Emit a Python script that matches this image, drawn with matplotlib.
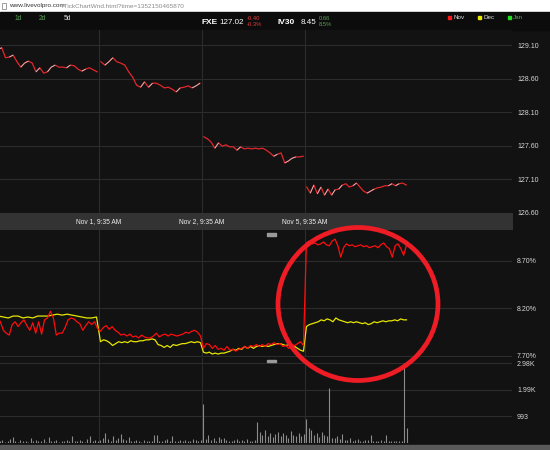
import numpy as np
import matplotlib
matplotlib.use('Agg')
import matplotlib.pyplot as plt
from matplotlib.collections import LineCollection
from matplotlib.patches import Rectangle, Ellipse

plt.rcParams['font.family'] = ['Liberation Sans', 'DejaVu Sans']

# ----------------------------------------------------------------------------------------------------------------------
# data (FXE ticks, 5 day view)
day_labels = ['Nov 1, 9:35 AM', 'Nov 2, 9:35 AM', 'Nov 5, 9:35 AM']
day_starts = [1, 2, 3]

price_oct31 = [129.03, 129.06, 128.91, 128.92, 128.95, 128.85, 128.77, 128.83, 128.86, 128.83, 128.70, 128.76,
               128.68, 128.70, 128.77, 128.80, 128.77, 128.77, 128.76, 128.80, 128.79, 128.74, 128.71, 128.74,
               128.76, 128.73, 128.70]
price_nov1 = [128.85, 128.80, 128.85, 128.91, 128.85, 128.83, 128.80, 128.70, 128.62, 128.50, 128.47, 128.55,
              128.47, 128.53, 128.53, 128.50, 128.46, 128.47, 128.44, 128.40, 128.46, 128.47, 128.49, 128.46,
              128.49, 128.53]
price_nov2 = [127.73, 127.70, 127.65, 127.56, 127.64, 127.59, 127.61, 127.58, 127.58, 127.53, 127.58, 127.55,
              127.56, 127.55, 127.56, 127.55, 127.56, 127.53, 127.49, 127.44, 127.47, 127.49, 127.34, 127.37,
              127.41, 127.43, 127.43, 127.44]
price_nov5 = [126.98, 126.89, 127.01, 126.88, 126.98, 126.86, 126.95, 126.86, 126.94, 126.95, 127.01, 127.03,
              126.98, 127.00, 127.04, 126.98, 126.92, 126.89, 126.92, 126.95, 126.97, 126.98, 127.00, 127.00,
              127.03, 127.00, 127.03, 127.04, 127.01]
price_ticks = [126.60, 127.10, 127.60, 128.10, 128.60, 129.10]

# implied vol, Nov (red) and Dec (yellow) series
iv_nov = [
    [8.10, 8.06, 7.97, 7.94, 7.92, 8.03, 8.06, 8.01, 8.05, 8.08, 8.02, 7.97, 8.05, 7.94, 8.06, 7.93, 8.08, 8.10,
     8.17, 8.10, 7.92, 7.94, 7.94, 8.00, 8.08, 8.10, 8.09, 8.06, 8.04, 7.97, 8.02, 8.06, 8.03, 8.06, 7.99],
    [7.96, 8.00, 8.02, 7.98, 8.01, 7.97, 7.95, 7.92, 7.93, 7.91, 7.93, 7.90, 7.91, 7.89, 7.92, 7.90, 7.89, 7.89,
     7.91, 7.94, 7.90, 7.92, 7.93, 7.91, 7.93, 7.92, 7.91, 7.92, 7.93, 7.95, 7.94, 7.96, 7.97, 7.95, 7.91],
    [7.78, 7.83, 7.82, 7.78, 7.81, 7.77, 7.78, 7.76, 7.80, 7.76, 7.77, 7.75, 7.77, 7.78, 7.80, 7.78, 7.81, 7.80,
     7.82, 7.80, 7.82, 7.80, 7.83, 7.82, 7.84, 7.82, 7.83, 7.80, 7.81, 7.78, 7.82, 7.81, 7.83, 7.85, 7.81],
    [8.89, 8.91, 8.88, 8.89, 8.87, 8.88, 8.90, 8.87, 8.86, 8.91, 8.93, 8.86, 8.74, 8.84, 8.88, 8.86, 8.87, 8.85,
     8.86, 8.87, 8.85, 8.86, 8.84, 8.85, 8.86, 8.84, 8.87, 8.89, 8.85, 8.83, 8.74, 8.86, 8.88, 8.83, 8.76, 8.87],
]
iv_dec = [
    [8.12, 8.11, 8.10, 8.12, 8.12, 8.10, 8.11, 8.10, 8.12, 8.12, 8.12, 8.13, 8.14, 8.13, 8.14, 8.13, 8.12, 8.11,
     8.10, 8.10, 8.11],
    [7.85, 7.87, 7.86, 7.84, 7.81, 7.83, 7.85, 7.84, 7.85, 7.84, 7.86, 7.85, 7.85, 7.86, 7.86, 7.87, 7.87, 7.88,
     7.87, 7.82, 7.81, 7.79, 7.81, 7.79, 7.82, 7.81, 7.82, 7.83, 7.83, 7.84, 7.85, 7.84, 7.85, 7.84],
    [7.74, 7.73, 7.74, 7.72, 7.73, 7.72, 7.73, 7.73, 7.74, 7.75, 7.77, 7.76, 7.78, 7.77, 7.80, 7.78, 7.80, 7.78,
     7.80, 7.81, 7.80, 7.81, 7.80, 7.81, 7.82, 7.83, 7.83, 7.82, 7.81, 7.82, 7.81, 7.80, 7.78, 7.76, 7.75],
    [8.01, 8.03, 8.04, 8.05, 8.06, 8.08, 8.07, 8.09, 8.08, 8.06, 8.10, 8.08, 8.07, 8.06, 8.05, 8.06, 8.05, 8.06,
     8.05, 8.04, 8.05, 8.03, 8.04, 8.06, 8.05, 8.06, 8.07, 8.06, 8.07, 8.07, 8.08, 8.07, 8.09, 8.08, 8.08],
]
iv_ticks = [7.70, 8.20, 8.70]
iv_tick_labels = ['7.70%', '8.20%', '8.70%']

volume = [
    [90, 60, 120, 40, 80, 150, 210, 70, 50, 110, 60, 90, 40, 200, 80, 130, 60, 90, 150, 40, 220, 70, 60, 100,
     50, 80, 60, 110, 90, 250, 70, 60, 120, 80, 50, 140, 260, 90, 110, 70],
    [120, 200, 380, 150, 90, 260, 120, 200, 340, 160, 110, 240, 90, 60, 130, 80, 50, 110, 70, 90, 60, 300, 310,
     80, 60, 110, 150, 70, 250, 90, 60, 130, 80, 110, 70, 90, 140, 100, 60, 120],
    [1460, 160, 280, 120, 200, 90, 240, 150, 170, 110, 90, 60, 130, 150, 80, 100, 60, 140, 90, 70, 120, 780,
     420, 300, 500, 260, 380, 220, 340, 420, 250, 380, 300, 200, 440, 310, 250, 380, 270, 330],
    [900, 560, 480, 300, 360, 220, 420, 280, 250, 2030, 200, 180, 250, 140, 320, 120, 100, 180, 80, 120, 150, 90,
     70, 130, 100, 280, 90, 60, 80, 120, 60, 300, 80, 60, 70, 90, 60, 80, 2980, 560],
]
vol_ticks = [993, 1986, 2979]
vol_tick_labels = ['993', '1.99K', '2.98K']

# ----------------------------------------------------------------------------------------------------------------------
W, H = 550, 450
BG = '#121212'
GRID = '#2c2c2c'


def px_rect(l, t, r, b):
    # pixel box (from top left) -> figure fraction
    return [l / W, 1 - b / H, (r - l) / W, (b - t) / H]


def day_x(d, n):
    return d + (np.arange(n) + 0.5) / n


def style(ax, ylim, ticks, labels):
    ax.set_facecolor(BG)
    ax.set_xlim(0.039, 5.01)
    ax.set_ylim(*ylim)
    ax.set_xticks(day_starts)
    ax.set_xticklabels([])
    ax.set_yticks(ticks)
    ax.set_yticklabels(labels)
    ax.grid(True, color=GRID, lw=0.8)
    ax.set_axisbelow(True)
    ax.tick_params(length=0, labelleft=False, labelright=True, labelcolor='#d6d6d6', labelsize=5, pad=3.6)
    for s in ax.spines.values():
        s.set_visible(False)


fig = plt.figure(figsize=(5.5, 4.5), dpi=100)
fig.patch.set_facecolor(BG)

# browser bar + header strip
fig.add_artist(Rectangle((0, 1 - 11.5 / H), 1, 11.5 / H, transform=fig.transFigure, color='white', zorder=0))
fig.add_artist(Rectangle((0, 1 - 30 / H), 1, 18.5 / H, transform=fig.transFigure, color='#0c0c0c', zorder=0))
fig.add_artist(Rectangle((2 / W, 1 - 9 / H), 4 / W, 6 / H, transform=fig.transFigure, fill=False, ec='#777777',
                         lw=0.5))
fig.text(9 / W, 1 - 6 / H, 'www.livevolpro.com', color='#333333', fontsize=4.6, va='center')
fig.text(62.5 / W, 1 - 6 / H, '/TickChartWnd.html?time=1352150465870', color='#8a8a8a', fontsize=4.6,
         va='center')

hdr_y = 1 - 22.5 / H
for x, s, c in [(15, '1d', '#5aa05a'), (39, '2d', '#5aa05a'), (64, '5d', '#e0e0e0')]:
    fig.text(x / W, 1 - 18 / H, s, color=c, fontsize=4.8, va='center')
fig.text(201 / W, hdr_y, 'FXE', color='white', fontsize=6, va='center', fontweight='bold')
fig.text(244 / W, hdr_y, '127.02', color='white', fontsize=5.8, va='center', ha='right')
fig.text(247 / W, 1 - 18.5 / H, '-0.40', color='#e03a3a', fontsize=4.2, va='center')
fig.text(247 / W, 1 - 25 / H, '-0.3%', color='#e03a3a', fontsize=4.2, va='center')
fig.text(278 / W, hdr_y, 'IV30', color='white', fontsize=6, va='center', fontweight='bold')
fig.text(316 / W, hdr_y, '8.45', color='white', fontsize=5.8, va='center', ha='right')
fig.text(318.5 / W, 1 - 18.5 / H, '0.66', color='#5aa05a', fontsize=4.2, va='center')
fig.text(318.5 / W, 1 - 25 / H, '8.5%', color='#5aa05a', fontsize=4.2, va='center')
for x, s, c, tc in [(449, 'Nov', '#ff1a1a', '#dddddd'), (479, 'Dec', '#e8e800', '#dddddd'),
                    (509, 'Jan', '#22dd22', '#5aa05a')]:
    fig.add_artist(Rectangle(((x - 1.5) / W, 1 - 19 / H), 3 / W, 3 / H, transform=fig.transFigure, color=c))
    fig.text((x + 4) / W, 1 - 17.5 / H, s, color=tc, fontsize=4.5, va='center')

####################################################################################################################
# PRICE PANEL
ax1 = fig.add_axes(px_rect(0, 30, 512, 213))
style(ax1, (126.593, 129.324), price_ticks, ['%.2f' % p for p in price_ticks])
for d, vals in enumerate([price_oct31, price_nov1, price_nov2, price_nov5]):
    x = day_x(d, len(vals))
    ax1.plot(x, vals, color='#e3262b', lw=0.9)
    # up-ticks drawn lighter on top
    pts = np.column_stack([x, vals])
    segs = np.stack([pts[:-1], pts[1:]], axis=1)
    up = [b > a + 0.02 for a, b in zip(vals[:-1], vals[1:])]
    ax1.add_collection(LineCollection(segs[up], colors='#c8c8c8', linewidths=0.6))

# date band
axb = fig.add_axes(px_rect(0, 213, 513, 230))
axb.set_facecolor('#333333')
axb.set_xlim(0.039, 5.02)
axb.set_ylim(0, 1)
axb.set_xticks([])
axb.set_yticks([])
for s in axb.spines.values():
    s.set_visible(False)
for d, lab in zip(day_starts, day_labels):
    axb.text(d, 0.5, lab, color='#f0f0f0', fontsize=4.8, ha='center', va='center')

####################################################################################################################
# IV PANEL
ax2 = fig.add_axes(px_rect(0, 230, 512, 357))
style(ax2, (7.689, 9.026), iv_ticks, iv_tick_labels)
ax2.plot(np.concatenate([day_x(d, len(v)) for d, v in enumerate(iv_dec)]), np.concatenate(iv_dec),
         color='#e6e600', lw=0.9)
ax2.plot(np.concatenate([day_x(d, len(v)) for d, v in enumerate(iv_nov)]), np.concatenate(iv_nov),
         color='#ff0d0d', lw=0.9)

####################################################################################################################
# VOLUME PANEL
ax3 = fig.add_axes(px_rect(0, 358, 512, 443))
style(ax3, (0, 3166), vol_ticks, vol_tick_labels)
for d, v in enumerate(volume):
    ax3.vlines(day_x(d, len(v)), 0, v, color='#8c8c8c', lw=0.8)

# drag handles and bottom strip
for y in [233, 359.5]:
    fig.add_artist(Rectangle((267 / W, 1 - (y + 2.5) / H), 9 / W, 2.5 / H, transform=fig.transFigure,
                             color='#9a9a9a'))
fig.add_artist(Rectangle((0, 0), 1, 5 / H, transform=fig.transFigure, color='#5a5a5a'))

# the big red circle
fig.add_artist(Ellipse((358 / W, 1 - 304 / H), 160 / W, 153 / H, transform=fig.transFigure, fill=False,
                       ec='#ee1c25', lw=3.4))

fig.savefig('out.png', dpi=100, facecolor=fig.get_facecolor())
